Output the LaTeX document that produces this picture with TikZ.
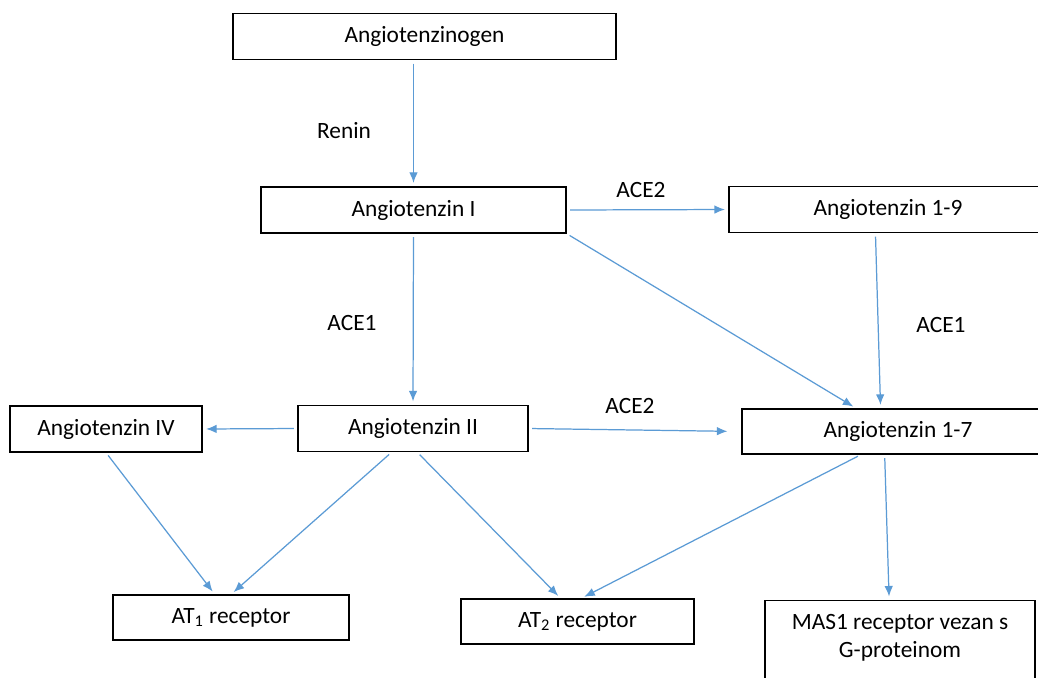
\documentclass[tikz,border=0pt]{standalone}
\usepackage{fontspec}
\setmainfont{Carlito}
\usetikzlibrary{arrows.meta,calc}
\definecolor{flowblue}{RGB}{91,155,213}

\begin{document}
\begin{tikzpicture}[
    x=0.02cm, y=-0.02cm,
    every node/.style={align=center, font=\fontsize{13.3}{16}\selectfont},
    box/.style={draw, line width=0.7pt, inner sep=2pt,
      minimum height=0.92cm},
    enz/.style={inner sep=1pt},
    flow/.style={draw=flowblue, line width=0.7pt,
      -{Latex[length=0.21cm,width=0.17cm]},
      shorten >=2pt, shorten <=2pt}
  ]
    \clip (0,0) rectangle (1038,677);
    \fill[white] (0,0) rectangle (1038,677);

    \node[box, minimum width=7.66cm] (agen) at (424.5,36.5) {Angiotenzinogen};
    \node[box, minimum width=6.1cm] (ang1) at (413.5,210) {Angiotenzin I};
    \node[box, minimum width=6.36cm] (ang19) at (888,209.5) {Angiotenzin 1-9};
    \node[box, minimum width=4.6cm] (ang2) at (413,428.5) {Angiotenzin II};
    \node[box, minimum width=3.84cm] (ang4) at (106,429) {Angiotenzin IV};
    \node[box, minimum width=6.24cm, minimum height=0.9cm] (ang17) at (898,431.5)
      {Angiotenzin 1-7};
    \node[box, minimum width=4.72cm, minimum height=0.9cm] (at1) at (231,617.5)
      {AT\textsubscript{1} receptor};
    \node[box, minimum width=4.66cm, minimum height=0.9cm] (at2) at (577.5,621.5)
      {AT\textsubscript{2} receptor};
    \node[box, minimum width=5.4cm, anchor=north, inner ysep=8pt,
      text depth=3cm] (mas) at (900,600)
      {MAS1 receptor vezan s\\G-proteinom};

    % enzymes
    \node[enz] (renin) at (344,131) {Renin};
    \node[enz] (ace2a) at (641,190) {ACE2};
    \node[enz] (ace1a) at (352,323) {ACE1};
    \node[enz] (ace1b) at (941,325) {ACE1};
    \node[enz] (ace2b) at (630,406) {ACE2};

    \draw[flow] (agen.south -| ang1.north) -- (ang1.north);
    \draw[flow] (ang1.east) -- (ang19.west);
    \draw[flow] (ang1.south) -- (ang2.north);
    \draw[flow] (ang1.south east) -- (ang17.151);
    \draw[flow] (ang19.242) -- (ang17.127);
    \draw[flow] (ang2.west) -- (ang4.east);
    \draw[flow, shorten >=0.28cm] (ang2.east) -- (ang17.west);
    \draw[flow] (ang4.south) -- (at1.125);
    \draw[flow] (ang2.228) -- (at1.north);
    \draw[flow] (ang2.280) -- (at2.126);
    \draw[flow] (ang17.212) -- (at2.81);
    \draw[flow] (ang17.240) -- ($(mas.north west)!0.46!(mas.north east)$);
  \end{tikzpicture}
\end{document}
